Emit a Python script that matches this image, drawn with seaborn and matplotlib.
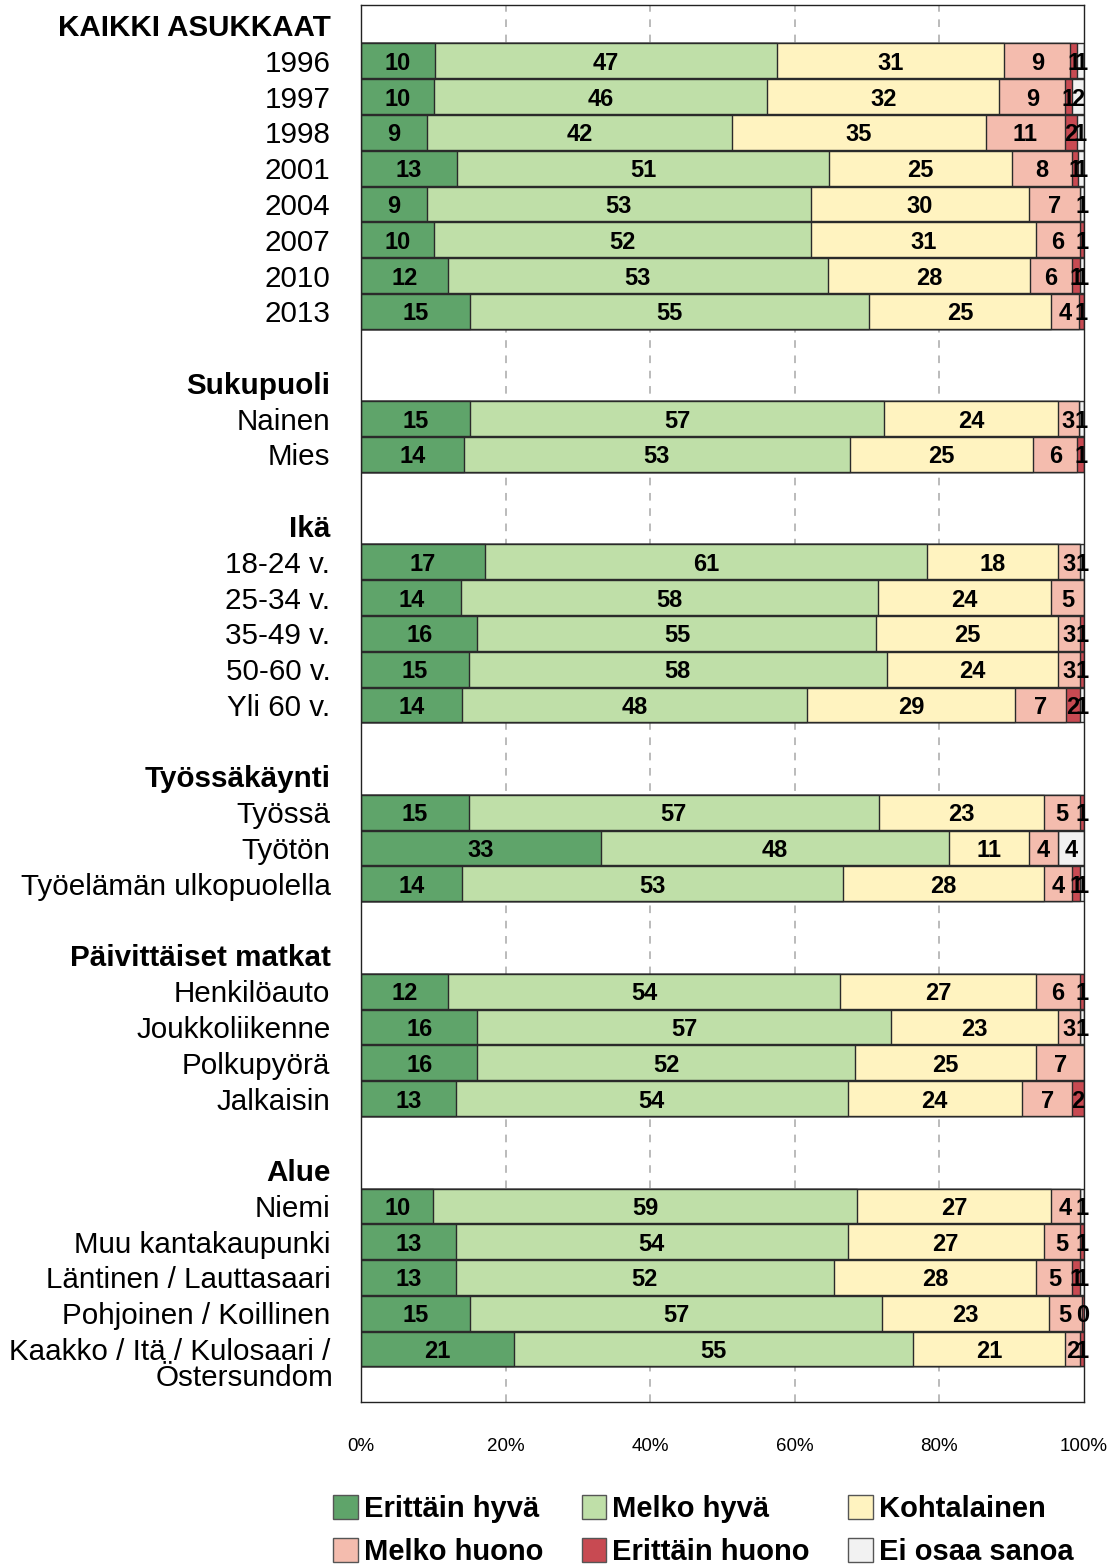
import matplotlib
matplotlib.use("Agg")
import matplotlib.pyplot as plt
import matplotlib.transforms as mtransforms
from matplotlib.patches import Patch
import seaborn as sns
import pandas as pd

# ---------------- data ----------------
categories = ["Erittäin hyvä", "Melko hyvä", "Kohtalainen",
              "Melko huono", "Erittäin huono", "Ei osaa sanoa"]
colors = ["#5fa46a", "#bfdfa8", "#fff3c0", "#f4bcae", "#c84a52", "#f2f2f2"]

group_headers = ["KAIKKI ASUKKAAT", "Sukupuoli", "Ikä", "Työssäkäynti",
                 "Päivittäiset matkat", "Alue"]
group_rows = [
    ["1996", "1997", "1998", "2001", "2004", "2007", "2010", "2013"],
    ["Nainen", "Mies"],
    ["18-24 v.", "25-34 v.", "35-49 v.", "50-60 v.", "Yli 60 v."],
    ["Työssä", "Työtön", "Työelämän ulkopuolella"],
    ["Henkilöauto", "Joukkoliikenne", "Polkupyörä", "Jalkaisin"],
    ["Niemi", "Muu kantakaupunki", "Läntinen / Lauttasaari",
     "Pohjoinen / Koillinen", "Kaakko / Itä / Kulosaari /\nÖstersundom"],
]

erittain_hyva = [10.2, 10.1, 9.1, 13.3, 9.1, 10.1, 12.0, 15.1,
                 15.1, 14.2,
                 17.1, 13.9, 16.1, 14.9, 14.0,
                 14.9, 33.2, 14.0,
                 12.1, 16.1, 16.1, 13.1,
                 10.0, 13.1, 13.1, 15.1, 21.2]
melko_hyva = [47.4, 46.1, 42.2, 51.4, 53.1, 52.1, 52.6, 55.2,
              57.2, 53.4,
              61.2, 57.6, 55.2, 57.8, 47.7,
              56.7, 48.1, 52.6,
              54.2, 57.2, 52.2, 54.2,
              58.6, 54.2, 52.3, 57.0, 55.1]
kohtalainen = [31.4, 32.1, 35.1, 25.4, 30.2, 31.2, 27.9, 25.1,
               24.1, 25.4,
               18.1, 23.9, 25.1, 23.7, 28.8,
               22.8, 11.1, 27.8,
               27.1, 23.1, 25.1, 24.1,
               26.8, 27.1, 28.0, 23.0, 21.1]
melko_huono = [9.1, 9.1, 11.0, 8.2, 7.0, 6.0, 5.9, 3.9,
               2.9, 6.1,
               3.0, 4.6, 3.0, 3.0, 7.0,
               5.0, 4.0, 4.0,
               6.0, 3.0, 6.6, 7.0,
               4.0, 5.0, 5.0, 4.6, 2.0]
erittain_huono = [1.0, 0.9, 1.6, 0.9, 0.0, 0.6, 1.0, 0.7,
                  0.0, 0.9,
                  0.0, 0.0, 0.6, 0.6, 1.9,
                  0.6, 0.0, 1.0,
                  0.6, 0.0, 0.0, 1.6,
                  0.0, 0.6, 1.0, 0.3, 0.6]
ei_osaa_sanoa = [0.9, 1.7, 1.0, 0.8, 0.6, 0.0, 0.6, 0.0,
                 0.7, 0.0,
                 0.6, 0.0, 0.0, 0.0, 0.6,
                 0.0, 3.6, 0.6,
                 0.0, 0.6, 0.0, 0.0,
                 0.6, 0.0, 0.6, 0.0, 0.0]

x_ticks = [0, 20, 40, 60, 80, 100]
x_tick_labels = ["0%", "20%", "40%", "60%", "80%", "100%"]

# ---------------- build table ----------------
series = [erittain_hyva, melko_hyva, kohtalainen, melko_huono,
          erittain_huono, ei_osaa_sanoa]

order, display, is_header = [], [], []
data_rows = []
for gi, (hdr, rws) in enumerate(zip(group_headers, group_rows)):
    if gi > 0:
        order.append(f"_gap{gi}")
        display.append("")
        is_header.append(False)
    order.append(f"_hdr{gi}")
    display.append(hdr)
    is_header.append(True)
    for r in rws:
        order.append(r)
        display.append(r.split("\n")[0])
        is_header.append(False)
        data_rows.append(r)

records = []
for i, r in enumerate(data_rows):
    cum = 0.0
    for ci, cat in enumerate(categories):
        v = series[ci][i]
        records.append(dict(row=r, category=cat, value=v,
                            start=cum, cum=cum + v))
        cum += v
df = pd.DataFrame(records)

# ---------------- plot ----------------
sns.set_style("white")
plt.rcParams["font.family"] = ["Liberation Sans", "DejaVu Sans"]
plt.rcParams["text.color"] = "black"
plt.rcParams["xtick.labelcolor"] = "black"
plt.rcParams["ytick.labelcolor"] = "black"

fig = plt.figure(figsize=(11.18, 15.66), dpi=100)
ax = fig.add_axes([361 / 1118, 1 - 1402 / 1566, 723 / 1118, 1397 / 1566])

for x in [20, 40, 60, 80]:
    ax.axvline(x, color="#a8a8a8", lw=1.1, ls=(0, (5, 5)), zorder=0)

for ci in range(len(categories) - 1, -1, -1):
    sub = df[df["category"] == categories[ci]]
    sns.barplot(data=sub, x="cum", y="row", order=order, orient="h",
                color=colors[ci], saturation=1, width=0.97,
                edgecolor="#2a2a2a", linewidth=1.0, errorbar=None, ax=ax,
                zorder=2)

pos = {r: i for i, r in enumerate(order)}
for _, rec in df.iterrows():
    if rec["value"] > 0:
        ax.text(rec["start"] + rec["value"] / 2, pos[rec["row"]],
                f"{rec['value']:.0f}", ha="center", va="center_baseline",
                fontsize=17, fontweight="bold", color="black", zorder=5)

ax.set_xlim(0, 100)
ax.set_ylim(len(order) - 1 + 1.48, -0.56)
ax.set_xlabel("")
ax.set_ylabel("")
ax.set_yticks(range(len(order)))
ax.set_yticklabels(display, fontsize=21.3)
for lbl, h in zip(ax.get_yticklabels(), is_header):
    if h:
        lbl.set_fontweight("bold")
ax.tick_params(axis="y", length=0, pad=22)

ax.set_xticks(x_ticks)
ax.set_xticklabels(x_tick_labels, fontsize=13.5)
ax.tick_params(axis="x", length=21, width=1, color="#555555", pad=5,
               direction="out")

for s in ax.spines.values():
    s.set_visible(True)
    s.set_color("#222222")
    s.set_linewidth(1.0)

# second line of the last label
last = data_rows[-1]
trans = mtransforms.blended_transform_factory(ax.transAxes, ax.transData)
ax.text(-20 / 72 * 100 / 723, pos[last] + 0.8, last.split("\n")[1],
        transform=trans, ha="right", va="center", fontsize=21.3)

# legend
handles = [Patch(facecolor=c, edgecolor="#555555", lw=1, label=l)
           for c, l in zip(colors, categories)]
leg_order = [0, 3, 1, 4, 2, 5]
fig.legend(handles=[handles[i] for i in leg_order],
           labels=[categories[i] for i in leg_order],
           ncol=3, loc="upper left",
           bbox_to_anchor=(333 / 1118, 1 - 1495 / 1566),
           frameon=False, borderaxespad=0, borderpad=0,
           handlelength=0.85, handleheight=0.85, handletextpad=0.2,
           columnspacing=1.32, labelspacing=0.52,
           prop=dict(weight="bold", size=21))

fig.savefig("out.png", dpi=100)
